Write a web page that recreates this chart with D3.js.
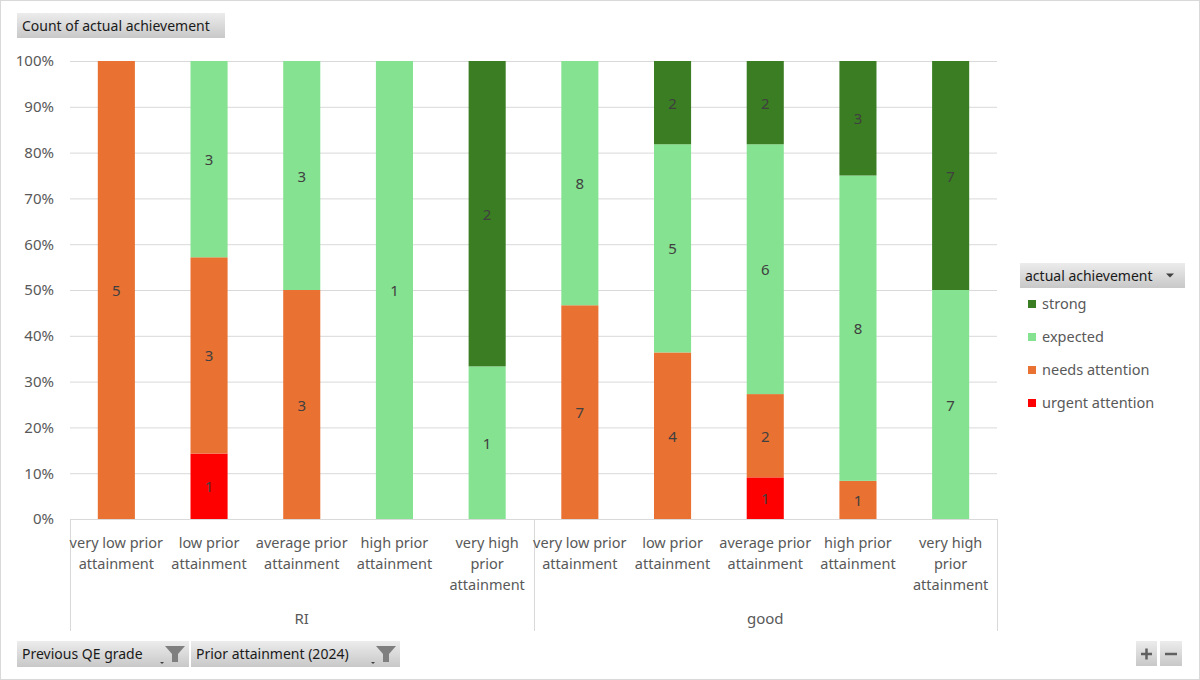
<!DOCTYPE html>
<html><head><meta charset="utf-8">
<script src="https://cdn.jsdelivr.net/npm/d3@7"></script>
<style>
html,body{margin:0;padding:0;background:#fff;}
svg{display:block;font-family:"Noto Sans","Open Sans",sans-serif;}
</style></head>
<body>
<svg id="chart" width="1200" height="680"></svg>
<script>
const groups = ["RI", "good"];
const categories = ["very low prior attainment","low prior attainment","average prior attainment","high prior attainment","very high prior attainment"];
const categoryLines = [["very low prior","attainment"],["low prior","attainment"],["average prior","attainment"],["high prior","attainment"],["very high","prior","attainment"]];
const seriesNames = ["urgent attention","needs attention","expected","strong"];
const seriesColors = ["#FF0000","#E97132","#84E291","#3A7D22"];
// counts per group+category, order: RI x5, good x5
const urgent   = [0,1,0,0,0, 0,0,1,0,0];
const needs    = [5,3,3,0,0, 7,4,2,1,0];
const expected = [0,3,3,1,1, 8,5,6,8,7];
const strong   = [0,0,0,0,2, 0,2,2,3,7];
const yTicks = [0,0.1,0.2,0.3,0.4,0.5,0.6,0.7,0.8,0.9,1];

(function(){
const svg = d3.select("#chart");
const W=1200,H=680;
svg.append("rect").attr("x",0.5).attr("y",0.5).attr("width",W-1).attr("height",H-1).attr("fill","#fff").attr("stroke","#d9d9d9");

const defs = svg.append("defs");
const grad = defs.append("linearGradient").attr("id","btn").attr("x1",0).attr("y1",0).attr("x2",0).attr("y2",1);
grad.append("stop").attr("offset","0%").attr("stop-color","#ececec");
grad.append("stop").attr("offset","100%").attr("stop-color","#c8c8c8");

const pLeft=70,pRight=997,pTop=61,pBottom=519;
const keys = [];
groups.forEach(g=>categories.forEach(c=>keys.push(g+"|"+c)));
const x = d3.scaleBand().domain(keys).range([pLeft,pRight]).paddingInner(0.6).paddingOuter(0.3);
const y = d3.scaleLinear().domain([0,1]).range([pBottom,pTop]);

// gridlines
svg.append("g").selectAll("line").data(yTicks).join("line")
  .attr("x1",pLeft).attr("x2",pRight).attr("y1",d=>y(d)+0.5).attr("y2",d=>y(d)+0.5)
  .attr("stroke","#d9d9d9").attr("stroke-width",1);

// y axis labels
const yAxis = d3.axisLeft(y).tickValues(yTicks).tickFormat(d3.format(".0%")).tickSize(0).tickPadding(0);
const ya = svg.append("g").attr("transform",`translate(${pLeft-16},0)`).call(yAxis);
ya.select(".domain").remove();
ya.selectAll("text").attr("fill","#595959").style("font-size","15px").style("font-family","Noto Sans, sans-serif");

// stacked data
const rows = keys.map((k,i)=>({key:k,"urgent attention":urgent[i],"needs attention":needs[i],"expected":expected[i],"strong":strong[i]}));
const stack = d3.stack().keys(seriesNames).offset(d3.stackOffsetExpand);
const layers = stack(rows);

const gBars = svg.append("g");
layers.forEach((layer,li)=>{
  const g = gBars.append("g");
  g.selectAll("rect").data(layer).join("rect")
    .attr("x",d=>x(d.data.key)).attr("width",x.bandwidth())
    .attr("y",d=>y(d[1])).attr("height",d=>Math.max(0,y(d[0])-y(d[1])))
    .attr("fill",seriesColors[li]);
});
layers.forEach((layer,li)=>{
  svg.append("g").selectAll("text").data(layer.filter(d=>d.data[layer.key]>0)).join("text")
    .attr("x",d=>x(d.data.key)+x.bandwidth()/2)
    .attr("y",d=>(y(d[0])+y(d[1]))/2+6)
    .attr("text-anchor","middle").attr("fill","#404040").style("font-size","15px")
    .text(d=>d.data[layer.key]);
});

// category axis
const axisCol="#d9d9d9";
svg.append("line").attr("x1",pLeft).attr("x2",pRight).attr("y1",pBottom+0.5).attr("y2",pBottom+0.5).attr("stroke",axisCol);
const mid = (pLeft+pRight)/2;
[pLeft,mid,pRight].forEach(xx=>svg.append("line").attr("x1",Math.round(xx)+0.5).attr("x2",Math.round(xx)+0.5).attr("y1",pBottom).attr("y2",631).attr("stroke",axisCol));

keys.forEach((k,i)=>{
  const lines = categoryLines[i%5];
  const t = svg.append("text").attr("text-anchor","middle").attr("fill","#595959").style("font-size","14.5px");
  lines.forEach((ln,j)=>t.append("tspan").attr("x",x(k)+x.bandwidth()/2).attr("y",548+j*21).text(ln));
});
groups.forEach((g,gi)=>{
  const cx = gi===0 ? (pLeft+mid)/2 : (mid+pRight)/2;
  svg.append("text").attr("x",cx).attr("y",624).attr("text-anchor","middle").attr("fill","#595959").style("font-size","15px").text(g);
});

// buttons
function button(x0,y0,w,h,label,opts={}){
  const g = svg.append("g");
  g.append("rect").attr("x",x0).attr("y",y0).attr("width",w).attr("height",h).attr("fill","url(#btn)");
  if(label) g.append("text").attr("x",x0+5).attr("y",y0+h/2+5).attr("fill","#1a1a1a").style("font-size","14px").text(label);
  if(opts.dropdown){
    g.append("path").attr("d",`M${opts.dx},${y0+h/2-2} l8,0 l-4,4 z`).attr("fill","#404040");
  }
  if(opts.filter){
    const fx=opts.fx, fy=y0+5;
    g.append("path").attr("d",`M${fx-3},${fy+h/2+3} l4,0 l-2,2 z`).attr("fill","#404040");
    g.append("path").attr("d",`M${fx+2},${fy} l20,0 l-7,8 l0,8 l-6,0 l0,-8 z`).attr("fill","#7f7f7f");
  }
  return g;
}
button(17,13,208,25,"Count of actual achievement");
button(1020,263,165,25,"actual achievement",{dropdown:true,dx:1166});
button(17,641,172,26,"Previous QE grade",{filter:true,fx:163});
button(191,641,209,26,"Prior attainment (2024)",{filter:true,fx:374});
// +/- buttons
const pb = button(1136,641,21,25,null);
pb.append("path").attr("d","M1141,654 h11 M1146.5,648.5 v11").attr("stroke","#606060").attr("stroke-width",2.5);
const mb = button(1160,641,22,25,null);
mb.append("path").attr("d","M1165,654 h12").attr("stroke","#606060").attr("stroke-width",2.5);

// legend
const legendOrder = [3,2,1,0];
legendOrder.forEach((si,i)=>{
  const ly = 304+i*33;
  svg.append("rect").attr("x",1028).attr("y",ly-4).attr("width",8).attr("height",8).attr("fill",seriesColors[si]);
  svg.append("text").attr("x",1042).attr("y",ly+5).attr("fill","#595959").style("font-size","14.5px").text(seriesNames[si]);
});
})();
</script>
</body></html>
